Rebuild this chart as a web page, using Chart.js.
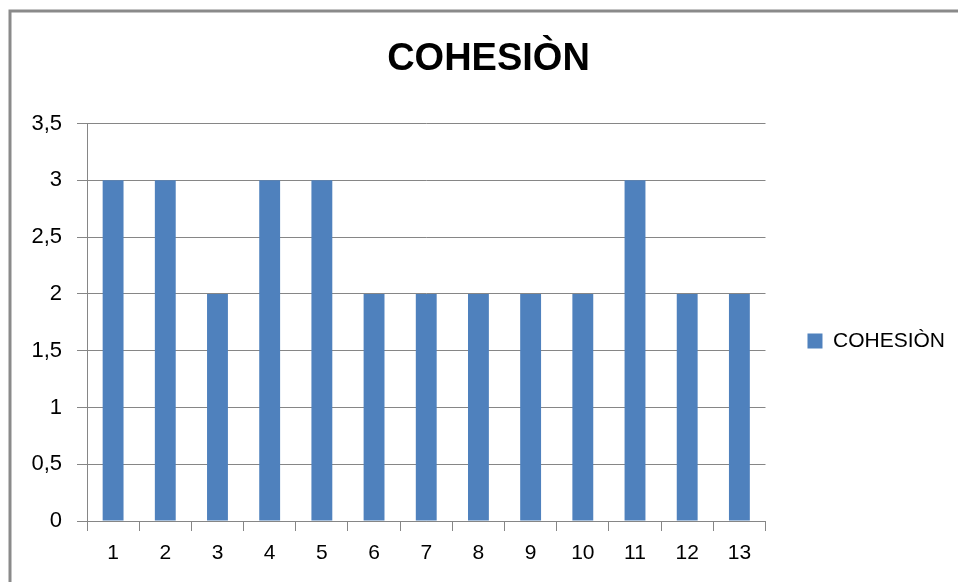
<!DOCTYPE html>
<html>
<head>
<meta charset="utf-8">
<script src="https://cdn.jsdelivr.net/npm/chart.js@4"></script>
<style>
  html, body { margin: 0; padding: 0; background: #fff; }
  #wrap { position: relative; width: 958px; height: 582px; }
</style>
</head>
<body>
<div id="wrap"><canvas id="c" width="958" height="582"></canvas></div>
<script>
const chartTitle = 'COHESIÒN';
const seriesName = 'COHESIÒN';
const categories = ['1','2','3','4','5','6','7','8','9','10','11','12','13'];
const cohesionValues = [3, 3, 2, 3, 3, 2, 2, 2, 2, 2, 3, 2, 2];
const yMin = 0, yMax = 3.5, yStep = 0.5;

const FONT = "'Liberation Sans', Arial, sans-serif";
const GRID = '#868686';

const frame = {
  id: 'frame',
  beforeDraw(chart) {
    const ctx = chart.ctx;
    ctx.save();
    ctx.fillStyle = '#ffffff';
    ctx.fillRect(0, 0, chart.width, chart.height);
    ctx.strokeStyle = '#8a8a8a';
    ctx.lineWidth = 3;
    ctx.beginPath();
    ctx.moveTo(10, chart.height + 5);
    ctx.lineTo(10, 11);
    ctx.lineTo(chart.width + 5, 11);
    ctx.stroke();
    ctx.restore();
  }
};

// place the legend and title blocks like the reference
const blockPlace = {
  id: 'blockPlace',
  afterLayout(chart) {
    const lg = chart.legend;
    if (lg) {
      lg.left += 32; lg.right += 32;
      lg.top += 50; lg.bottom += 50;
    }
    const tb = chart.titleBlock;
    if (tb) {
      tb.left += 27; tb.right += 27;
    }
  }
};

new Chart(document.getElementById('c'), {
  type: 'bar',
  data: {
    labels: categories,
    datasets: [{
      label: seriesName,
      data: cohesionValues,
      backgroundColor: '#4F81BD',
      borderColor: '#4F81BD',
      borderWidth: 0,
      barPercentage: 0.8,
      categoryPercentage: 0.5
    }]
  },
  options: {
    responsive: false,
    animation: false,
    layout: { padding: { left: 0, right: 35, top: 0, bottom: 0 } },
    plugins: {
      title: {
        display: true,
        text: chartTitle,
        color: '#000',
        font: { family: FONT, size: 38, weight: 'bold' },
        padding: { top: 37, bottom: 41 }
      },
      legend: {
        display: true,
        position: 'right',
        align: 'center',
        labels: {
          color: '#000',
          font: { family: FONT, size: 21 },
          boxWidth: 15,
          boxHeight: 15,
          padding: 10
        }
      },
      tooltip: { enabled: false }
    },
    scales: {
      x: {
        offset: true,
        grid: {
          display: true,
          offset: true,
          drawOnChartArea: false,
          drawTicks: true,
          tickLength: 10,
          color: GRID
        },
        border: { display: true, color: GRID, width: 1 },
        ticks: {
          color: '#000',
          font: { family: FONT, size: 21 },
          padding: 10,
          maxRotation: 0
        },
        afterFit(scale) { scale.height = 61; }
      },
      y: {
        min: yMin,
        max: yMax,
        grid: {
          color: GRID,
          drawTicks: true,
          tickLength: 10
        },
        border: { display: true, color: GRID, width: 1 },
        ticks: {
          stepSize: yStep,
          color: '#000',
          font: { family: FONT, size: 22 },
          padding: 15,
          callback: (v) => String(v).replace('.', ',')
        },
        afterFit(scale) { scale.width = 87; }
      }
    }
  },
  plugins: [frame, blockPlace]
});
</script>
</body>
</html>
